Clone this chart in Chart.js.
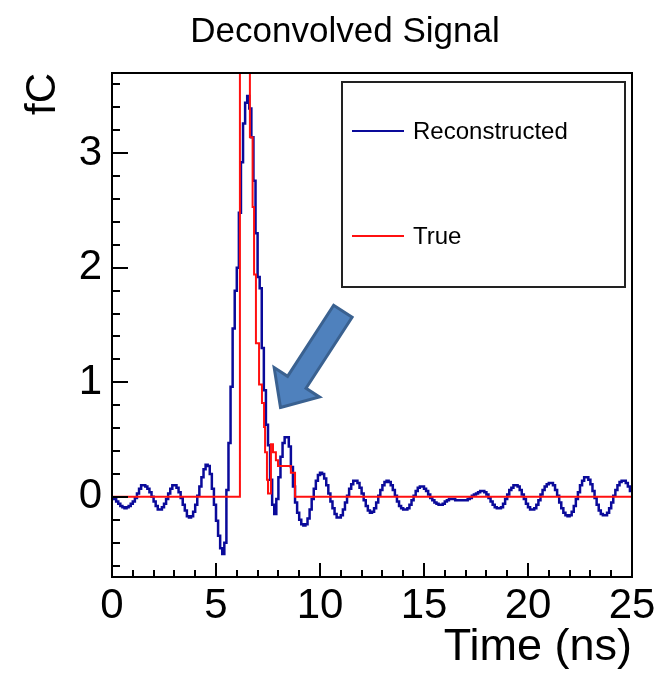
<!DOCTYPE html>
<html>
<head>
<meta charset="utf-8">
<script src="https://cdn.jsdelivr.net/npm/chart.js@4.4.0/dist/chart.umd.min.js"></script>
<style>
  html, body { margin: 0; padding: 0; background: #fff; }
  #wrap { width: 661px; height: 676px; }
</style>
</head>
<body>
<div id="wrap"><canvas id="deconv"></canvas></div>
<script>
const chartTitle = 'Deconvolved Signal';
const xTitle = 'Time (ns)';
const yTitle = 'fC';
const seriesNames = ['Reconstructed', 'True'];
const xTickLabels = [0, 5, 10, 15, 20, 25];
const yTickLabels = [0, 1, 2, 3];

// reconstructed charge, one value per 0.1 ns bin starting at t = 0 (one row per ns)
const binWidth = 0.1;
const reconstructed = [
  -0.01, -0.02, -0.04, -0.06, -0.08, -0.09, -0.10, -0.09, -0.08, -0.06,
  -0.04, -0.01, 0.03, 0.07, 0.10, 0.10, 0.09, 0.07, 0.04, 0.00,
  -0.04, -0.08, -0.11, -0.11, -0.09, -0.06, -0.02, 0.03, 0.07, 0.10,
  0.10, 0.08, 0.04, -0.01, -0.07, -0.12, -0.17, -0.18, -0.17, -0.13,
  -0.07, 0.01, 0.09, 0.17, 0.24, 0.28, 0.27, 0.20, 0.07, -0.07,
  -0.21, -0.34, -0.45, -0.50, -0.40, 0.06, 0.47, 0.96, 1.47, 1.80,
  2.00, 2.48, 2.92, 3.26, 3.44, 3.50, 3.39, 3.14, 2.76, 2.30,
  1.92, 1.82, 1.30, 0.93, 0.63, 0.45, 0.15, -0.07, -0.15, -0.02,
  0.17, 0.35, 0.47, 0.52, 0.52, 0.44, 0.26, 0.09, -0.05, -0.14,
  -0.20, -0.24, -0.25, -0.24, -0.19, -0.11, -0.02, 0.07, 0.14, 0.19,
  0.21, 0.20, 0.16, 0.10, 0.03, -0.04, -0.10, -0.15, -0.18, -0.18,
  -0.16, -0.11, -0.05, 0.01, 0.07, 0.11, 0.14, 0.14, 0.12, 0.08,
  0.03, -0.03, -0.08, -0.12, -0.14, -0.13, -0.10, -0.05, 0.01, 0.06,
  0.10, 0.13, 0.14, 0.13, 0.10, 0.06, 0.01, -0.04, -0.08, -0.10,
  -0.11, -0.11, -0.10, -0.07, -0.03, 0.01, 0.05, 0.08, 0.09, 0.09,
  0.07, 0.05, 0.02, -0.01, -0.03, -0.05, -0.06, -0.07, -0.07, -0.06,
  -0.04, -0.03, -0.02, -0.02, -0.02, -0.03, -0.03, -0.03, -0.03, -0.03,
  -0.03, -0.02, -0.01, 0.01, 0.02, 0.03, 0.04, 0.05, 0.05, 0.04,
  0.02, -0.01, -0.04, -0.07, -0.09, -0.10, -0.10, -0.09, -0.06, -0.02,
  0.02, 0.06, 0.08, 0.10, 0.10, 0.09, 0.06, 0.02, -0.02, -0.06,
  -0.09, -0.11, -0.11, -0.10, -0.07, -0.03, 0.02, 0.06, 0.09, 0.11,
  0.12, 0.12, 0.10, 0.06, 0.01, -0.05, -0.10, -0.14, -0.16, -0.17,
  -0.16, -0.13, -0.08, -0.02, 0.04, 0.10, 0.14, 0.17, 0.17, 0.15,
  0.11, 0.05, -0.01, -0.07, -0.12, -0.15, -0.16, -0.16, -0.14, -0.10,
  -0.05, 0.01, 0.06, 0.10, 0.13, 0.14, 0.14, 0.12, 0.09, 0.05
];

// true charge: value holds from each time until the next one
const trueTime   = [0, 6.15, 6.63, 6.76, 6.83, 6.92, 7.07, 7.21, 7.31, 7.36, 7.45, 7.50, 7.64, 7.74, 7.88, 7.98, 8.60, 8.80];
const trueCharge = [0, 4.60, 3.14, 2.53, 1.94, 1.34, 0.98, 0.82, 0.61, 0.39, 0.15, 0.03, 0.46, 0.39, 0.32, 0.27, 0.21, 0.00];

// arrow pointing at the second pulse, in axis units
const arrowTip = [8.1, 0.78];
const arrowTail = [11.1, 1.62];

const FONT = '"Liberation Sans", Arial, Helvetica, sans-serif';
const xMin = 0, xMax = 25, yMin = -0.7, yMax = 3.7;

const recoPoints = reconstructed.map((v, i) => ({ x: i * binWidth, y: v }));
recoPoints.push({ x: xMax, y: reconstructed[reconstructed.length - 1] });
const truePoints = trueTime.map((t, i) => ({ x: t, y: trueCharge[i] }));
truePoints.push({ x: xMax, y: trueCharge[trueCharge.length - 1] });

const rootStyle = {
  id: 'rootStyle',
  beforeDraw(chart) {
    const ctx = chart.ctx;
    ctx.save();
    ctx.fillStyle = '#fff';
    ctx.fillRect(0, 0, chart.width, chart.height);
    ctx.restore();
  },
  afterDatasetsDraw(chart) {
    const { ctx, scales: { x, y } } = chart;
    const tx = x.getPixelForValue(arrowTip[0]), ty = y.getPixelForValue(arrowTip[1]);
    const sx = x.getPixelForValue(arrowTail[0]), sy = y.getPixelForValue(arrowTail[1]);
    const len = Math.hypot(sx - tx, sy - ty);
    const ux = (sx - tx) / len, uy = (sy - ty) / len;
    const nx = -uy, ny = ux;
    const headLen = 30, headHalf = 27, shaftHalf = 11;
    const pt = (a, b) => [tx + ux * a + nx * b, ty + uy * a + ny * b];
    const shape = [pt(0, 0), pt(headLen, headHalf), pt(headLen, shaftHalf), pt(len, shaftHalf),
                   pt(len, -shaftHalf), pt(headLen, -shaftHalf), pt(headLen, -headHalf)];
    ctx.save();
    ctx.beginPath();
    shape.forEach((p, i) => i ? ctx.lineTo(p[0], p[1]) : ctx.moveTo(p[0], p[1]));
    ctx.closePath();
    ctx.fillStyle = '#4f81bd';
    ctx.fill();
    ctx.lineWidth = 3;
    ctx.lineJoin = 'miter';
    ctx.strokeStyle = '#3a6190';
    ctx.stroke();
    ctx.restore();
  },
  afterDraw(chart) {
    const { ctx, chartArea: a, scales: { x, y } } = chart;
    ctx.save();
    // frame
    ctx.strokeStyle = '#000';
    ctx.lineWidth = 2;
    ctx.strokeRect(a.left, a.top, a.right - a.left, a.bottom - a.top);
    // ticks drawn inside the frame, ROOT style
    ctx.beginPath();
    for (let t = xMin; t <= xMax; t += 1) {
      const px = Math.round(x.getPixelForValue(t));
      const len = t % 5 === 0 ? 14 : 7;
      ctx.moveTo(px, a.bottom);
      ctx.lineTo(px, a.bottom - len);
    }
    for (let k = -3; k <= 18; k++) {
      const py = Math.round(y.getPixelForValue(k * 0.2));
      const len = k % 5 === 0 ? 16 : 8;
      ctx.moveTo(a.left, py);
      ctx.lineTo(a.left + len, py);
    }
    ctx.stroke();

    // title
    ctx.fillStyle = '#000';
    ctx.font = '35px ' + FONT;
    ctx.textAlign = 'center';
    ctx.textBaseline = 'alphabetic';
    ctx.fillText(chartTitle, 345, 42);

    // legend box
    const lx = 342, ly = 82, lw = 283, lh = 205;
    ctx.lineWidth = 2;
    ctx.strokeStyle = '#222';
    ctx.fillStyle = '#fff';
    ctx.fillRect(lx, ly, lw, lh);
    ctx.strokeRect(lx, ly, lw, lh);
    const rows = [131, 236];
    chart.data.datasets.forEach((ds, i) => {
      ctx.strokeStyle = ds.borderColor;
      ctx.lineWidth = 2;
      ctx.beginPath();
      ctx.moveTo(352, rows[i]);
      ctx.lineTo(404, rows[i]);
      ctx.stroke();
      ctx.fillStyle = '#000';
      ctx.font = '24px ' + FONT;
      ctx.textAlign = 'left';
      ctx.textBaseline = 'middle';
      ctx.fillText(ds.label, 413, rows[i] + 1);
    });
    ctx.restore();
  }
};

new Chart(document.getElementById('deconv'), {
  type: 'line',
  data: {
    datasets: [
      {
        label: seriesNames[0],
        data: recoPoints,
        borderColor: '#0a0a9a',
        borderWidth: 2.5,
        stepped: true,
        pointRadius: 0,
        fill: false,
        order: 1
      },
      {
        label: seriesNames[1],
        data: truePoints,
        borderColor: '#ff1010',
        borderWidth: 2,
        stepped: true,
        pointRadius: 0,
        fill: false,
        order: 0
      }
    ]
  },
  options: {
    responsive: true,
    maintainAspectRatio: false,
    animation: false,
    layout: { padding: { top: 73, right: 29, left: 0, bottom: 0 } },
    plugins: { legend: { display: false }, tooltip: { enabled: false }, title: { display: false } },
    scales: {
      x: {
        type: 'linear',
        min: xMin,
        max: xMax,
        afterBuildTicks(scale) { scale.ticks = xTickLabels.map(v => ({ value: v })); },
        afterFit(scale) { scale.height = 99; },
        grid: { display: false, drawTicks: false },
        border: { display: false },
        ticks: { color: '#000', font: { family: FONT, size: 42 }, padding: 4, maxRotation: 0, autoSkip: false },
        title: { display: true, text: xTitle, align: 'end', color: '#000', font: { family: FONT, size: 45 }, padding: { top: 0, bottom: 1 } }
      },
      y: {
        type: 'linear',
        min: yMin,
        max: yMax,
        afterBuildTicks(scale) { scale.ticks = yTickLabels.map(v => ({ value: v })); },
        afterFit(scale) { scale.width = 112; },
        grid: { display: false, drawTicks: false },
        border: { display: false },
        ticks: { color: '#000', font: { family: FONT, size: 42 }, padding: 10 },
        title: { display: true, text: yTitle, align: 'end', color: '#000', font: { family: FONT, size: 42 }, padding: { top: 18, bottom: 0 } }
      }
    }
  },
  plugins: [rootStyle]
});
</script>
</body>
</html>
